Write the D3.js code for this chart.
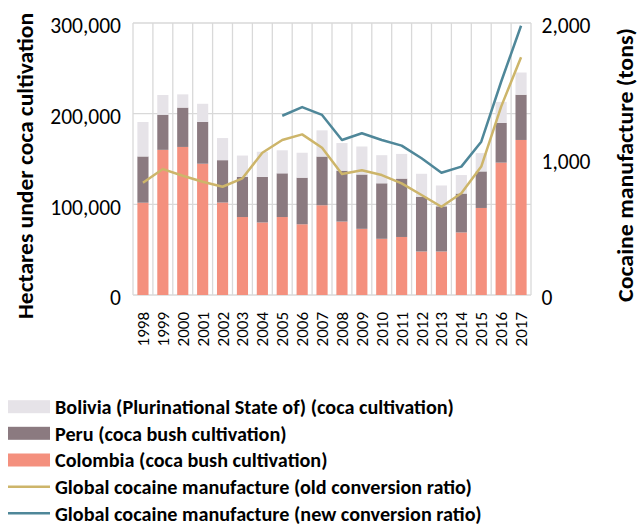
<!DOCTYPE html>
<html><head><meta charset="utf-8">
<script src="https://cdn.jsdelivr.net/npm/d3@7"></script>
<style>
html,body{margin:0;padding:0;background:#fff;}
svg{display:block;}
text{font-family:Carlito, Calibri, Lato, "Open Sans", sans-serif;fill:#000;}
</style></head>
<body><svg id="c" width="641" height="527"></svg>
<script>
const years = ["1998","1999","2000","2001","2002","2003","2004","2005","2006","2007","2008","2009","2010","2011","2012","2013","2014","2015","2016","2017"];
const colombia = [101800,160100,163300,144800,102000,86000,80000,86000,78000,99000,81000,73000,62000,64000,48000,48000,69000,96000,146000,171000];
const peru = [51000,38700,43400,46200,46700,44200,50300,48200,51400,53700,56100,59900,61200,64400,60400,49800,42900,40300,43900,49900];
const bolivia = [38000,21800,14600,19900,24400,23600,27700,25400,27500,28900,30500,30900,31000,27200,25300,23000,20400,20200,23100,24500];
const oldRatio = [826,926,877,833,796,858,1046,1140,1181,1083,890,917,882,821,735,649,748,944,1385,1748];
const newYears = ["2005","2006","2007","2008","2009","2010","2011","2012","2013","2014","2015","2016","2017"];
const newRatio = [1318,1382,1324,1140,1189,1140,1098,1005,899,944,1127,1568,1980];
const leftTicks = [0,100000,200000,300000];
const rightTicks = [0,1000,2000];
const seriesNames = ["Bolivia (Plurinational State of) (coca cultivation)","Peru (coca bush cultivation)","Colombia (coca bush cultivation)","Global cocaine manufacture (old conversion ratio)","Global cocaine manufacture (new conversion ratio)"];

const C = {bol:"#E6E3E8", peru:"#8B7A80", col:"#F4907E", old:"#CDB56A", nw:"#4F8799", grid:"#D9D9D9"};
const svg = d3.select("#c");
const L=133, R=531, T=23, B=295;
const x = d3.scaleBand().domain(years).range([L,R]).paddingInner(0.44).paddingOuter(0.22);
const y = d3.scaleLinear().domain([0,300000]).range([B,T]);
const y2 = d3.scaleLinear().domain([0,2000]).range([B,T]);
const step = (R-L)/years.length;

// grid
const g = svg.append("g");
leftTicks.forEach(t=>g.append("line").attr("x1",L).attr("x2",R).attr("y1",y(t)).attr("y2",y(t)).attr("stroke",C.grid).attr("stroke-width",1.3));
d3.range(years.length+1).forEach(i=>g.append("line").attr("x1",L+i*step).attr("x2",L+i*step).attr("y1",T).attr("y2",B).attr("stroke",C.grid).attr("stroke-width",1.3));

// stacked bars
const data = years.map((yr,i)=>({year:yr, colombia:colombia[i], peru:peru[i], bolivia:bolivia[i]}));
const stack = d3.stack().keys(["colombia","peru","bolivia"])(data);
const colors = {colombia:C.col, peru:C.peru, bolivia:C.bol};
svg.append("g").selectAll("g").data(stack).join("g").attr("fill",d=>colors[d.key])
  .selectAll("rect").data(d=>d).join("rect")
  .attr("x",d=>x(d.data.year)).attr("width",x.bandwidth())
  .attr("y",d=>y(d[1])).attr("height",d=>y(d[0])-y(d[1]));

// lines
const cx = yr => x(yr)+x.bandwidth()/2;
const line = d3.line().x(d=>cx(d[0])).y(d=>y2(d[1]));
svg.append("path").datum(years.map((yr,i)=>[yr,oldRatio[i]])).attr("d",line).attr("fill","none").attr("stroke",C.old).attr("stroke-width",2.5).attr("stroke-linejoin","round");
svg.append("path").datum(newYears.map((yr,i)=>[yr,newRatio[i]])).attr("d",line).attr("fill","none").attr("stroke",C.nw).attr("stroke-width",2.5).attr("stroke-linejoin","round");

// axes
const fmt = d3.format(",");
const ax1 = svg.append("g").attr("transform",`translate(${L},0)`).call(d3.axisLeft(y).tickValues(leftTicks).tickFormat(fmt).tickSize(0).tickPadding(12));
ax1.select(".domain").remove();
ax1.selectAll("text").attr("font-size",21.5).attr("dy","0.45em").style("font-family",null);
const ax2 = svg.append("g").attr("transform",`translate(${R},0)`).call(d3.axisRight(y2).tickValues(rightTicks).tickFormat(fmt).tickSize(0).tickPadding(10.5));
ax2.select(".domain").remove();
ax2.selectAll("text").attr("font-size",21.5).attr("dy","0.45em").style("font-family",null);
const ax3 = svg.append("g").attr("transform",`translate(0,${B})`).call(d3.axisBottom(x).tickSize(0).tickPadding(0));
ax3.select(".domain").remove();
ax3.selectAll("text").attr("font-size",17).attr("transform","rotate(-90)").attr("text-anchor","end").attr("x",-17).attr("y",0).attr("dy","0.35em").style("font-family",null);

// axis titles
svg.append("text").attr("transform","translate(25,166) rotate(-90)").attr("text-anchor","middle").attr("dominant-baseline","central").attr("font-size",22).attr("font-weight","bold").attr("textLength",306).attr("lengthAdjust","spacingAndGlyphs").text("Hectares under coca cultivation");
svg.append("text").attr("transform","translate(625,165) rotate(-90)").attr("text-anchor","middle").attr("dominant-baseline","central").attr("font-size",22).attr("font-weight","bold").attr("textLength",274).attr("lengthAdjust","spacingAndGlyphs").text("Cocaine manufacture (tons)");

// legend
const lg = svg.append("g");
const rowY = [406.7,433.3,460,486.7,513.3];
const sw = [{t:"rect",c:C.bol},{t:"rect",c:C.peru},{t:"rect",c:C.col},{t:"line",c:C.old},{t:"line",c:C.nw}];
seriesNames.forEach((n,i)=>{
  if(sw[i].t==="rect") lg.append("rect").attr("x",8).attr("y",rowY[i]-6.5).attr("width",42).attr("height",13).attr("fill",sw[i].c);
  else lg.append("line").attr("x1",8).attr("x2",50).attr("y1",rowY[i]).attr("y2",rowY[i]).attr("stroke",sw[i].c).attr("stroke-width",2.5);
  lg.append("text").attr("x",55).attr("y",rowY[i]).attr("dy","0.36em").attr("font-size",20.2).attr("font-weight","bold").text(n);
});
</script></body></html>
